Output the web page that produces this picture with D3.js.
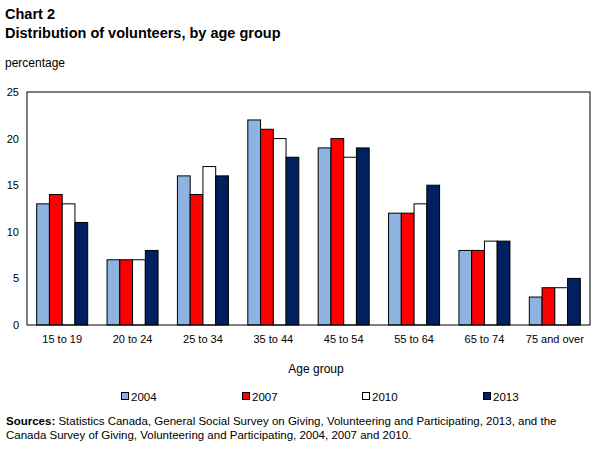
<!DOCTYPE html>
<html><head><meta charset="utf-8">
<script src="https://cdn.jsdelivr.net/npm/d3@7"></script>
<style>body{margin:0;background:#fff;} text{font-family:"Liberation Sans",Arial,sans-serif;}</style>
</head><body><svg id="c" width="607" height="456"></svg>
<script>
const categories = ["15 to 19","20 to 24","25 to 34","35 to 44","45 to 54","55 to 64","65 to 74","75 and over"];
const seriesNames = ["2004","2007","2010","2013"];
const v2004 = [13,7,16,22,19,12,8,3];
const v2007 = [14,7,14,21,20,12,8,4];
const v2010 = [13,7,17,20,18,13,9,4];
const v2013 = [11,8,16,18,19,15,9,5];
const yTicks = [0,5,10,15,20,25];
const colors = ["#8DB3E2","#FF0000","#FFFFFF","#002060"];
const series = [v2004,v2007,v2010,v2013];

const svg = d3.select("#c");
const L=27, R=590, T=92, B=325;
const x = d3.scaleBand().domain(categories).range([L,R]).paddingInner(0.275).paddingOuter(0.1375);
const xs = d3.scaleBand().domain(seriesNames).range([0,x.bandwidth()]);
const y = d3.scaleLinear().domain([0,25]).range([B,T]);

svg.append("text").attr("x",5).attr("y",19).attr("font-size",14.5).attr("font-weight","bold").text("Chart 2");
svg.append("text").attr("x",5).attr("y",38).attr("font-size",14.5).attr("font-weight","bold").text("Distribution of volunteers, by age group");
svg.append("text").attr("x",5).attr("y",67).attr("font-size",12).text("percentage");

const g = svg.append("g");
categories.forEach((c,i)=>{
  series.forEach((s,j)=>{
    g.append("rect").attr("x",x(c)+xs(seriesNames[j])).attr("y",y(s[i]))
     .attr("width",xs.bandwidth()).attr("height",y(0)-y(s[i]))
     .attr("fill",colors[j]).attr("stroke","#000").attr("stroke-width",1);
  });
});

svg.append("rect").attr("x",L).attr("y",T).attr("width",R-L).attr("height",B-T).attr("fill","none").attr("stroke","#000").attr("stroke-width",1);

const ya = svg.append("g").attr("transform",`translate(${L},0)`).call(d3.axisLeft(y).tickValues(yTicks).tickSize(0).tickPadding(8));
ya.select(".domain").remove();
ya.selectAll("text").attr("font-size",11).attr("font-family","Liberation Sans, Arial, sans-serif");

const xa = svg.append("g").attr("transform",`translate(0,${B})`).call(d3.axisBottom(x).tickSize(0).tickPadding(10));
xa.select(".domain").remove();
xa.selectAll("text").attr("font-size",11).attr("font-family","Liberation Sans, Arial, sans-serif");

svg.append("text").attr("x",316).attr("y",373).attr("text-anchor","middle").attr("font-size",12).text("Age group");

const legX=[121,242,362,483];
seriesNames.forEach((n,j)=>{
  svg.append("rect").attr("x",legX[j]+0.5).attr("y",392.5).attr("width",7).attr("height",7).attr("fill",colors[j]).attr("stroke","#000");
  svg.append("text").attr("x",legX[j]+10).attr("y",401).attr("font-size",11.5).text(n);
});

const s1 = svg.append("text").attr("x",6).attr("y",425).attr("font-size",11.5);
s1.append("tspan").attr("font-weight","bold").text("Sources: ");
s1.append("tspan").text("Statistics Canada, General Social Survey on Giving, Volunteering and Participating, 2013, and the");
svg.append("text").attr("x",6).attr("y",439).attr("font-size",11.5).text("Canada Survey of Giving, Volunteering and Participating, 2004, 2007 and 2010.");
</script></body></html>
